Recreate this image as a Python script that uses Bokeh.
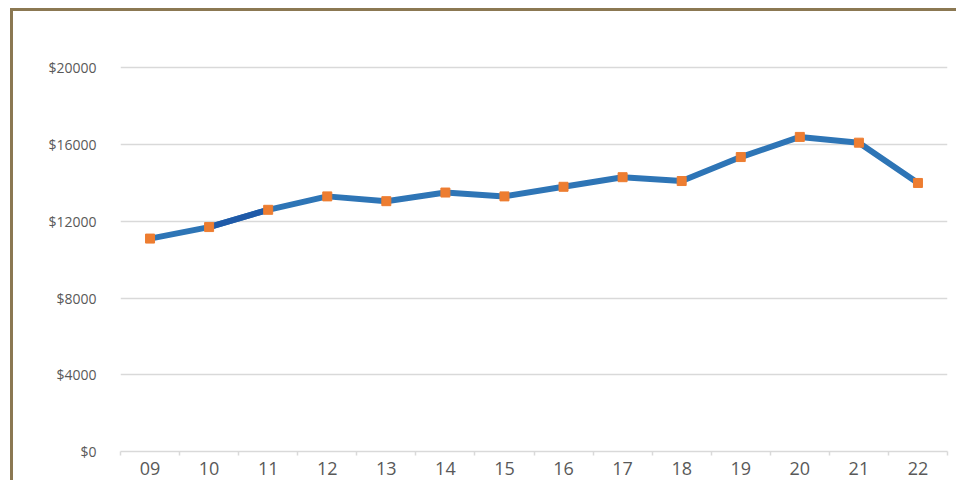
from bokeh.plotting import figure
from bokeh.models import FixedTicker, PrintfTickFormatter, ColumnDataSource, Range1d
from bokeh.embed import file_html
from bokeh.resources import INLINE

years = ["09", "10", "11", "12", "13", "14", "15", "16", "17", "18", "19", "20", "21", "22"]
values = [11100, 11700, 12600, 13300, 13050, 13500, 13300, 13800, 14300, 14100, 15350, 16400, 16100, 14000]
y_ticks = [0, 4000, 8000, 12000, 16000, 20000]

xs = list(range(len(years)))
src = ColumnDataSource(dict(x=xs, y=values))

p = figure(width=946, height=472, output_backend="svg", toolbar_location=None,
           x_range=Range1d(-0.5, len(years) - 0.5), y_range=Range1d(0, 22000),
           min_border_left=107, min_border_right=12, min_border_top=18, min_border_bottom=32)
p.styles = {"border-left": "3px solid #8B7852", "border-top": "3px solid #8B7852",
            "margin-left": "10px", "margin-top": "8px"}
p.outline_line_color = None
p.background_fill_color = "white"
p.border_fill_color = "white"

p.xgrid.visible = False
p.ygrid.grid_line_color = "#d9d9d9"
p.ygrid.grid_line_width = 1.3
p.ygrid.ticker = FixedTicker(ticks=y_ticks)

p.yaxis.ticker = FixedTicker(ticks=y_ticks)
p.yaxis.formatter = PrintfTickFormatter(format="$%d")
p.yaxis.axis_line_color = None
p.yaxis.major_tick_line_color = None
p.yaxis.minor_tick_line_color = None
p.yaxis.major_label_standoff = 18
p.yaxis.major_label_text_font = "Open Sans"
p.yaxis.major_label_text_font_size = "14px"
p.yaxis.major_label_text_color = "#595959"

p.xaxis.ticker = FixedTicker(ticks=xs, minor_ticks=[i - 0.5 for i in range(len(years) + 1)])
p.xaxis.major_label_overrides = {i: y for i, y in enumerate(years)}
p.xaxis.axis_line_color = "#d9d9d9"
p.xaxis.axis_line_width = 1.5
p.xaxis.major_tick_line_color = None
p.xaxis.minor_tick_line_color = "#d9d9d9"
p.xaxis.minor_tick_line_width = 1.5
p.xaxis.minor_tick_in = 0
p.xaxis.minor_tick_out = 4
p.xaxis.major_label_standoff = 4
p.xaxis.major_label_text_font = "Open Sans"
p.xaxis.major_label_text_font_size = "18px"
p.xaxis.major_label_text_color = "#595959"

p.line("x", "y", source=src, line_color="#2E75B6", line_width=6, line_join="round")
p.line(xs[1:3], values[1:3], line_color="#1F5AA8", line_width=6)
p.scatter("x", "y", source=src, marker="square", size=9, fill_color="#ED7D31", line_color="#ED7D31")

open("out.html", "w").write(file_html(p, INLINE))
